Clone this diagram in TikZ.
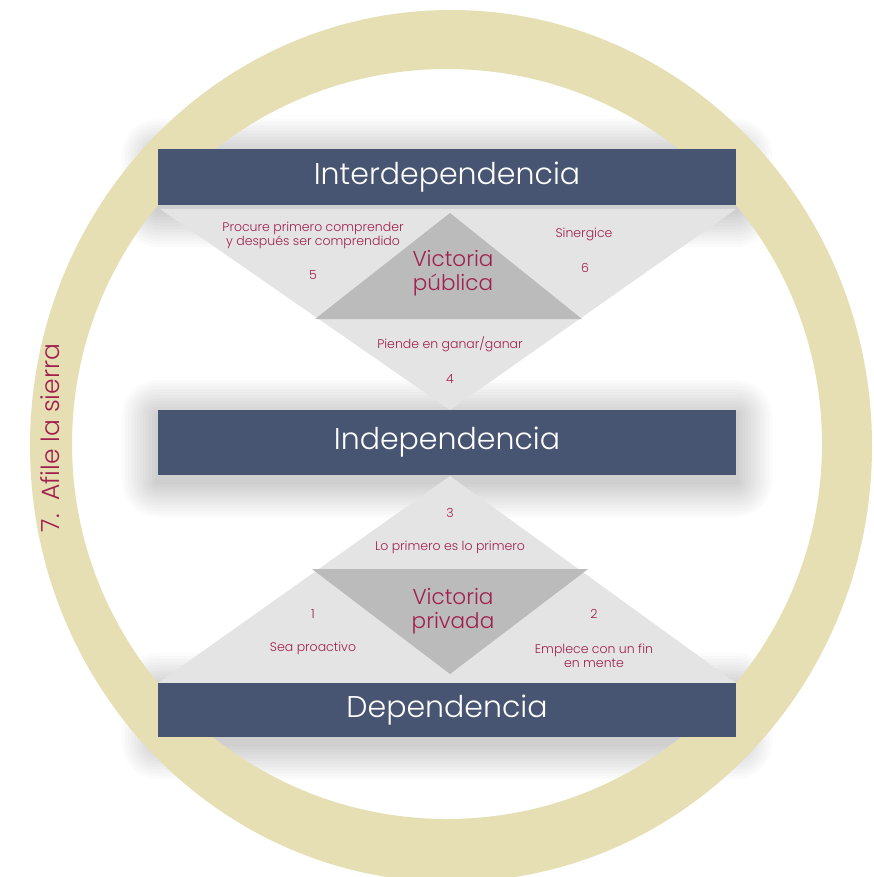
\documentclass[tikz,border=0pt]{standalone}
\usepackage{fontspec}
\setmainfont{Poppins Light}
\usetikzlibrary{positioning}
\definecolor{barblue}{HTML}{475572}
\definecolor{ringbeige}{HTML}{E5DFB3}
\definecolor{wingray}{HTML}{BBBBBB}
\definecolor{palegray}{HTML}{E4E4E4}
\definecolor{habitred}{HTML}{A01F4E}
\tikzset{
  levelbar/.style={fill=barblue, text=white, minimum width=578pt, inner sep=0pt,
    font=\fontsize{30}{32}\selectfont},
  habit/.style={text=habitred, font=\fontsize{12.5}{14}\selectfont, align=center, inner sep=1pt},
  victory/.style={text=habitred, font=\fontsize{21.5}{24}\selectfont, align=center, inner sep=1pt},
}
\begin{document}
\begin{tikzpicture}[x=1pt,y=-1pt]
\fill[white] (0,0) rectangle (874,877);
\useasboundingbox (0,0) rectangle (874,877);
% soft glow behind the levels
\foreach \g in {3,6,...,36} {
  \fill[black, opacity=0.016, rounded corners=\g pt] (158-\g,149-\g+6) rectangle (736+\g,205+\g+6);
  \fill[black, opacity=0.016, rounded corners=\g pt] (158-\g,410-\g+6) rectangle (736+\g,475+\g+6);
  \fill[black, opacity=0.016, rounded corners=\g pt] (158-\g,683-\g+6) rectangle (736+\g,737+\g+6);
}
% ring
\fill[ringbeige, even odd rule] (451,446) ellipse [x radius=421pt, y radius=436pt]
  (447,444) circle (375pt);
\node[rotate=90, text=habitred, font=\fontsize{25}{28}\selectfont] (saw) at (50,438) {7.~~Afile la sierra};
% hourglass
\fill[palegray] (160,209) -- (736,209) -- (450,410) -- cycle;
\fill[palegray] (450,476) -- (736,683) -- (158,683) -- cycle;
\fill[wingray] (450,213) -- (582,319) -- (315,319) -- cycle;
\fill[wingray] (312,569) -- (588,569) -- (450,674) -- cycle;
% levels
\node[levelbar, minimum height=56pt] (inter) at (447,177) {Interdependencia};
\node[levelbar, minimum height=65pt] (indep) at (447,442.5) {Independencia};
\node[levelbar, minimum height=54pt] (dep) at (447,710) {Dependencia};
% public victory
\node[victory] (pub) at (453,273) {Victoria\\pública};
\node[habit] (h5) at (313,235) {Procure primero comprender\\y después ser comprendido};
\node[habit] (n5) at (313,275) {5};
\node[habit] (h6) at (584,234) {Sinergice};
\node[habit] (n6) at (585,268) {6};
\node[habit] (h4) at (450,344) {Piende en ganar/ganar};
\node[habit] (n4) at (450,379) {4};
% private victory
\node[victory] (priv) at (453,611) {Victoria\\privada};
\node[habit] (n3) at (450,513) {3};
\node[habit] (h3) at (450,547) {Lo primero es lo primero};
\node[habit] (n1) at (313,614) {1};
\node[habit] (h1) at (313,648) {Sea proactivo};
\node[habit] (n2) at (594,614) {2};
\node[habit] (h2) at (594,656) {Emplece con un fin\\en mente};
\end{tikzpicture}
\end{document}
